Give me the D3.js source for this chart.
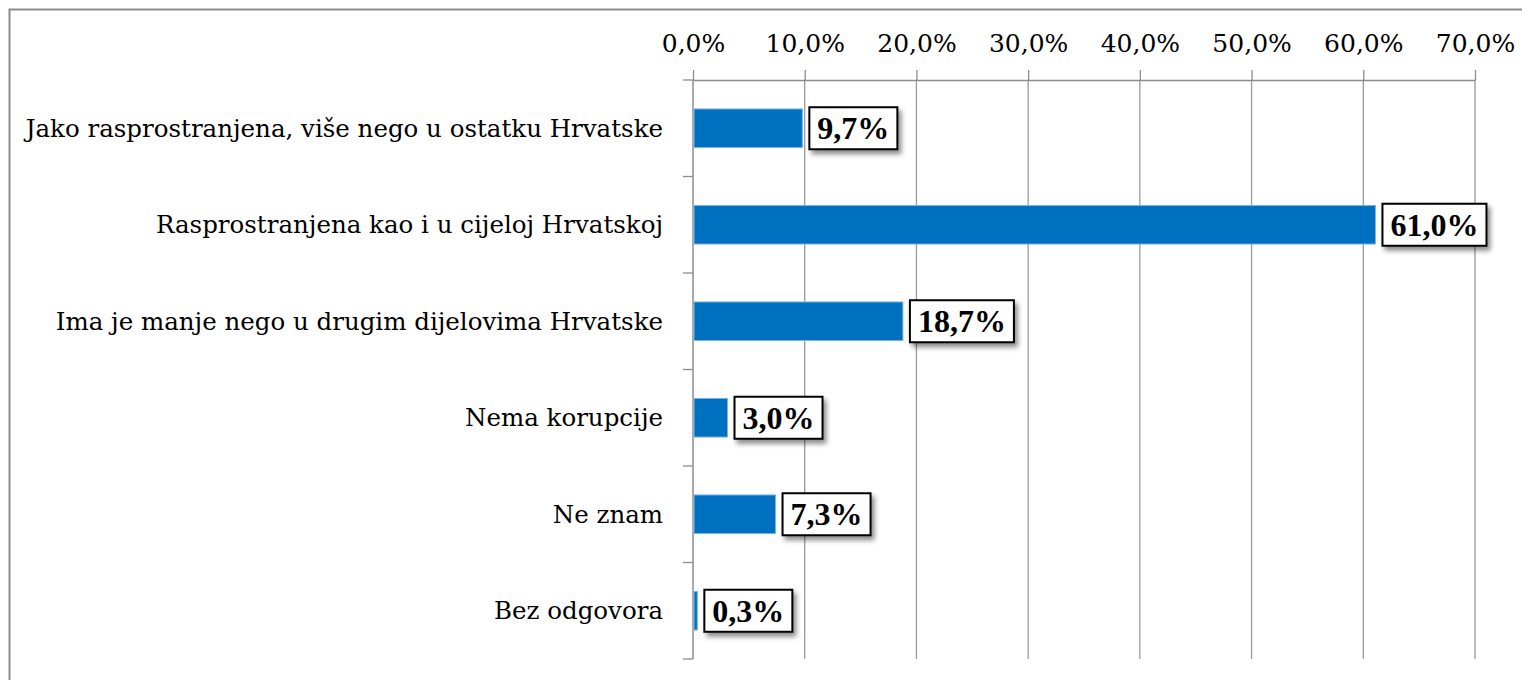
<!DOCTYPE html>
<html lang="hr">

<head>
    <meta charset="UTF-8">
    <title>Korupcija - horizontalni stupci</title>
    <script src="https://cdn.jsdelivr.net/npm/d3@7"></script>
    <style>
        * {
            margin: 0;
            padding: 0;
        }

        body {
            background: #fff;
        }

        text {
            font-family: "DejaVu Serif", "Liberation Serif", serif;
        }
    </style>
</head>

<body>
    <script>
        // podaci
        const categories = [
            "Jako rasprostranjena, više nego u ostatku Hrvatske",
            "Rasprostranjena kao i u cijeloj Hrvatskoj",
            "Ima je manje nego u drugim dijelovima Hrvatske",
            "Nema korupcije",
            "Ne znam",
            "Bez odgovora"
        ];
        const values = [9.7, 61.0, 18.7, 3.0, 7.3, 0.3];
        const ticks = [0, 10, 20, 30, 40, 50, 60, 70];

        const width = 1522;
        const height = 680;
        const margin = { top: 80, right: 47, bottom: 21, left: 693 };

        const fmt = v => v.toFixed(1).replace(".", ",") + "%";

        const svg = d3.select("body").append("svg")
            .attr("width", width)
            .attr("height", height);

        const defs = svg.append("defs");
        const shadow = defs.append("filter").attr("id", "shadow")
            .attr("x", "-20%").attr("y", "-30%")
            .attr("width", "150%").attr("height", "180%");
        shadow.append("feDropShadow")
            .attr("dx", 3).attr("dy", 4)
            .attr("stdDeviation", 2.5)
            .attr("flood-color", "#000")
            .attr("flood-opacity", 0.45);

        // okvir
        svg.append("rect")
            .attr("x", 9.5).attr("y", 9.5)
            .attr("width", width + 20).attr("height", height + 20)
            .attr("fill", "none")
            .attr("stroke", "#8c8c8c")
            .attr("stroke-width", 2);

        const x = d3.scaleLinear()
            .domain([0, 70])
            .range([margin.left, width - margin.right]);

        const y = d3.scaleBand()
            .domain(categories)
            .range([margin.top, height - margin.bottom])
            .paddingInner(0.6)
            .paddingOuter(0.3);

        // mreža
        svg.append("g")
            .selectAll("line")
            .data(ticks.slice(1))
            .join("line")
            .attr("x1", d => x(d)).attr("x2", d => x(d))
            .attr("y1", margin.top).attr("y2", height - margin.bottom)
            .attr("stroke", "#9a9a9a")
            .attr("stroke-width", 1.3);

        // gornja os
        const xAxis = svg.append("g")
            .attr("transform", `translate(0,${margin.top})`)
            .call(d3.axisTop(x).tickValues(ticks).tickFormat(fmt).tickSize(10).tickSizeOuter(0).tickPadding(18));
        xAxis.select(".domain").attr("stroke", "#8c8c8c").attr("stroke-width", 1.5);
        xAxis.selectAll(".tick line").attr("stroke", "#8c8c8c").attr("stroke-width", 1.3);
        xAxis.selectAll(".tick text")
            .attr("font-size", 25)
            .attr("fill", "#000")
            .style("font-family", "\"DejaVu Serif\", serif");

        // lijeva os s oznakama između kategorija
        const bounds = d3.range(categories.length + 1).map(i => margin.top + i * (height - margin.bottom - margin.top) / categories.length);
        const yAxis = svg.append("g");
        yAxis.append("line")
            .attr("x1", x(0)).attr("x2", x(0))
            .attr("y1", margin.top).attr("y2", height - margin.bottom)
            .attr("stroke", "#8c8c8c").attr("stroke-width", 1.5);
        yAxis.selectAll(".bt")
            .data(bounds)
            .join("line")
            .attr("class", "bt")
            .attr("x1", x(0) - 10).attr("x2", x(0))
            .attr("y1", d => d).attr("y2", d => d)
            .attr("stroke", "#8c8c8c").attr("stroke-width", 1.3);

        svg.append("g")
            .selectAll("text")
            .data(categories)
            .join("text")
            .attr("x", x(0) - 30)
            .attr("y", d => y(d) + y.bandwidth() / 2)
            .attr("dy", "0.35em")
            .attr("text-anchor", "end")
            .attr("font-size", 24.5)
            .attr("fill", "#000")
            .text(d => d);

        // stupci
        svg.append("g")
            .selectAll("rect")
            .data(values)
            .join("rect")
            .attr("x", x(0) + 1)
            .attr("y", (d, i) => y(categories[i]))
            .attr("width", d => x(d) - x(0))
            .attr("height", y.bandwidth())
            .attr("fill", "#0070c0")
            .attr("stroke", "#7fb4e0")
            .attr("stroke-width", 1);

        // oznake vrijednosti
        const labels = svg.append("g")
            .selectAll("g")
            .data(values)
            .join("g")
            .attr("transform", (d, i) => `translate(${x(d) + 8},${y(categories[i]) + y.bandwidth() / 2})`);

        labels.append("text")
            .attr("class", "val")
            .attr("x", 8)
            .attr("dy", "0.34em")
            .attr("font-size", 32)
            .attr("font-weight", "bold")
            .attr("fill", "#000")
            .style("font-family", "\"Liberation Serif\", serif")
            .text(d => fmt(d));

        labels.each(function () {
            const g = d3.select(this);
            const t = g.select("text");
            const w = t.node().getComputedTextLength();
            g.insert("rect", "text")
                .attr("x", 0)
                .attr("y", -21)
                .attr("width", w + 16)
                .attr("height", 42)
                .attr("fill", "#fff")
                .attr("stroke", "#000")
                .attr("stroke-width", 2)
                .attr("filter", "url(#shadow)");
        });
    </script>
</body>

</html>
